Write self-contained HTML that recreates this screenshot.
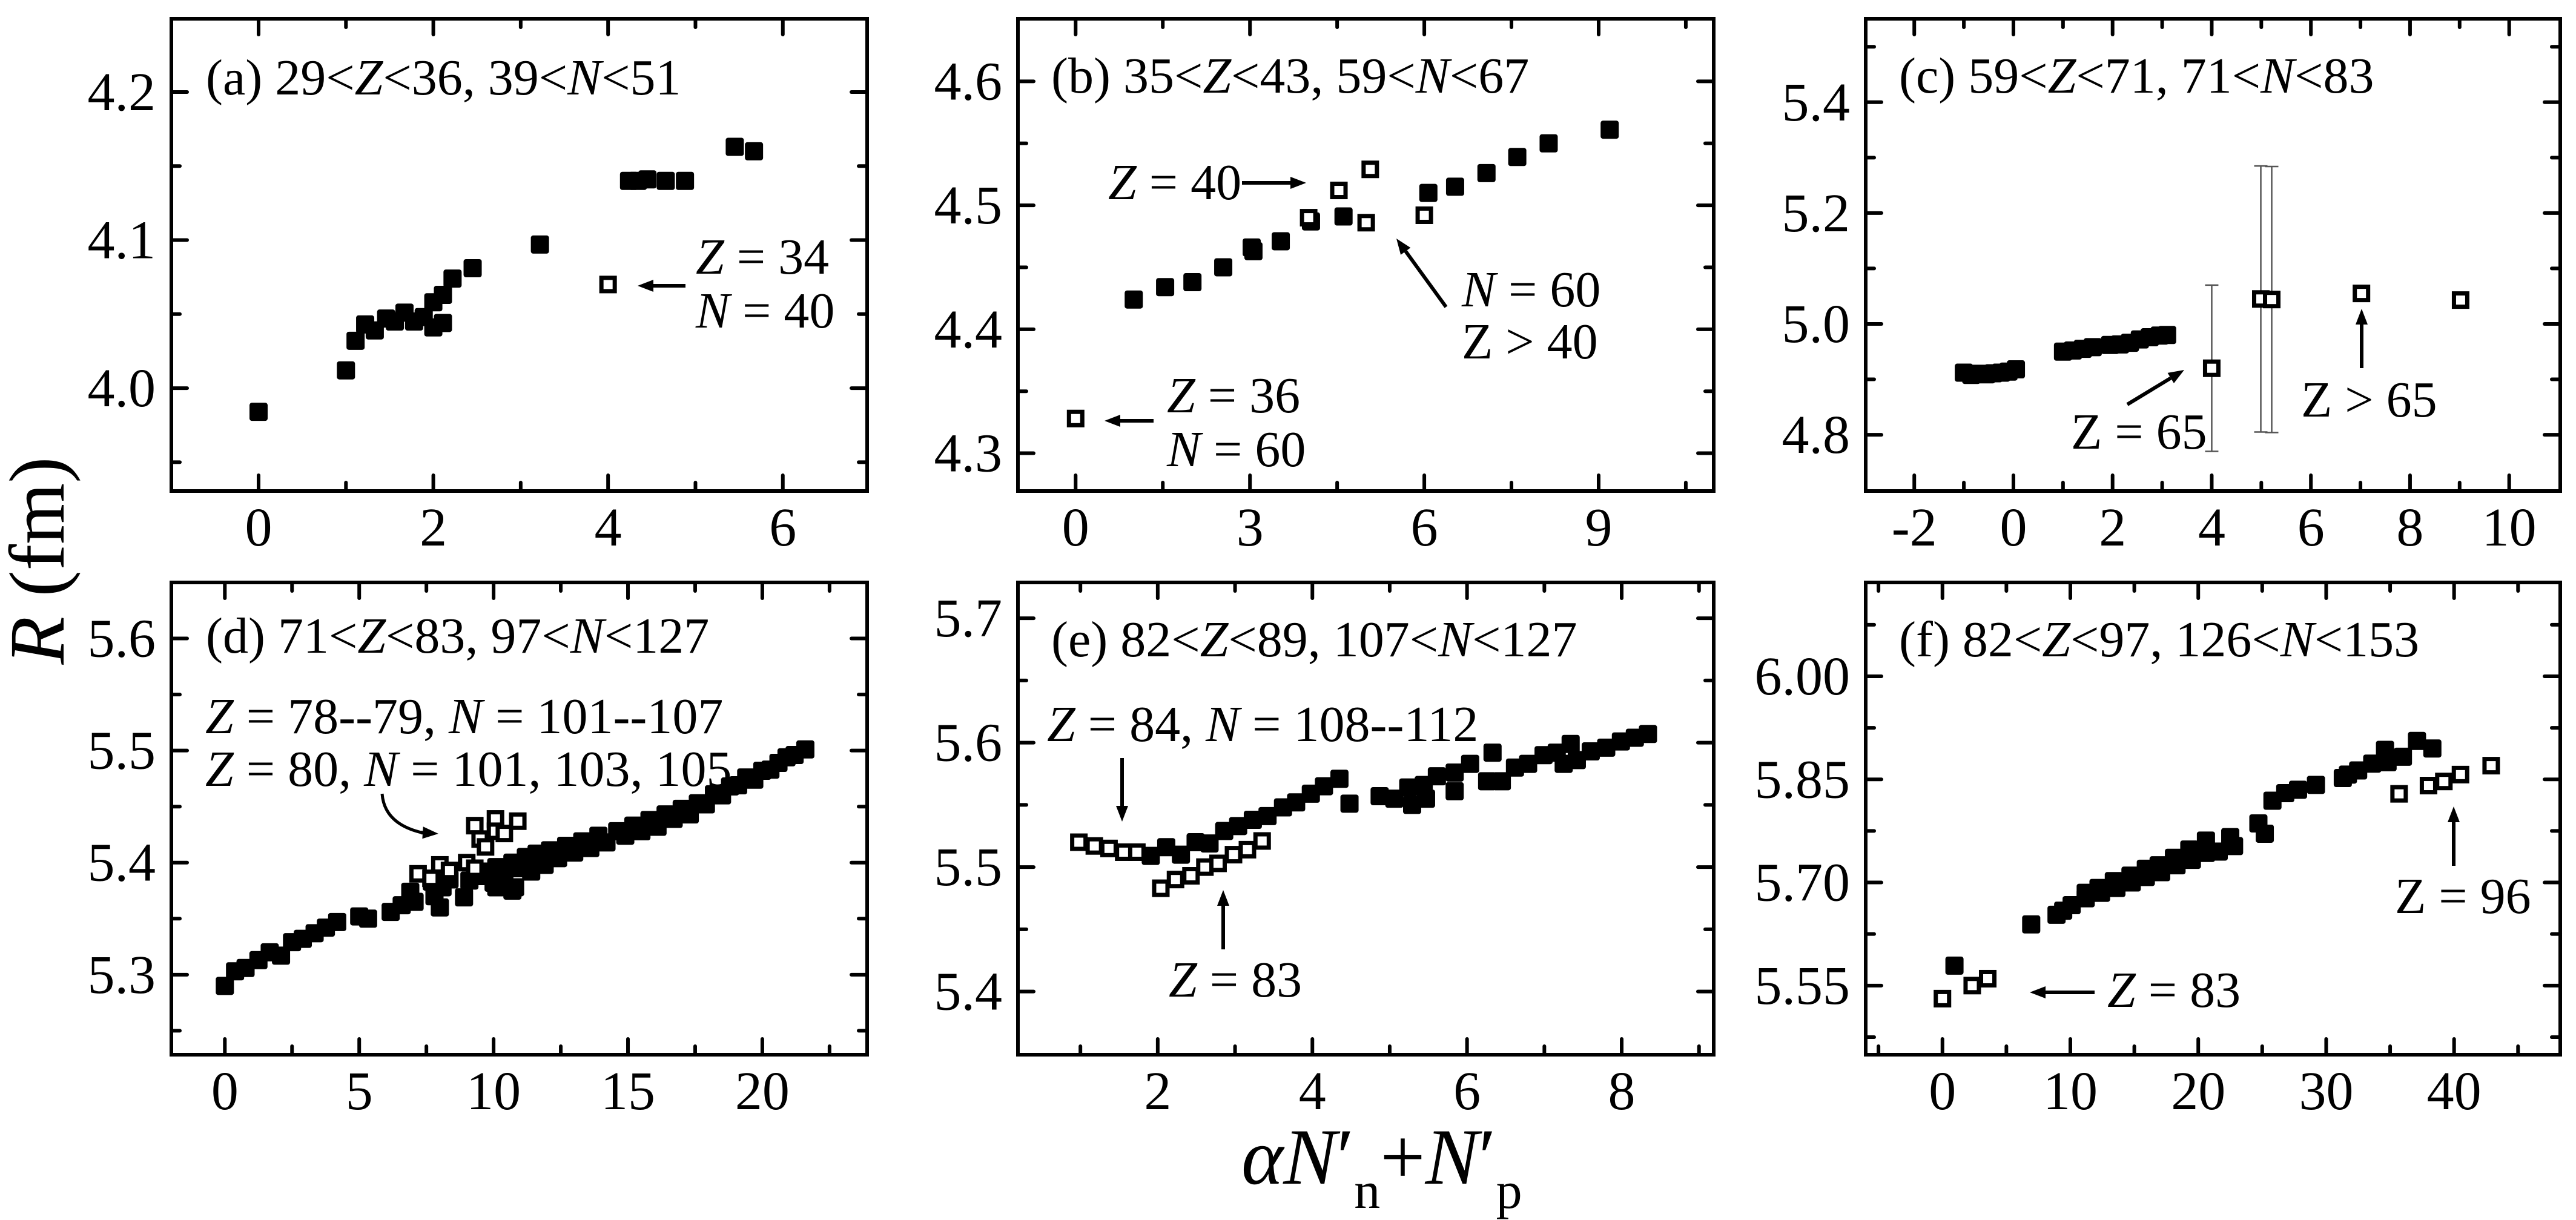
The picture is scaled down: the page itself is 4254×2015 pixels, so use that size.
<!DOCTYPE html>
<html><head><meta charset="utf-8"><title>R vs aN'n+N'p</title>
<style>
html,body{margin:0;padding:0;background:#fff;}
svg{display:block;font-family:"Liberation Serif","Times New Roman",serif;}
</style></head>
<body>
<svg id="fig" xmlns="http://www.w3.org/2000/svg" width="4254" height="2015" viewBox="0 0 4254 2015">
<rect x="0" y="0" width="4254" height="2015" fill="#fff"/>
<text transform="translate(105,926) rotate(-90)" text-anchor="middle" font-size="130" fill="#000"><tspan font-style="italic">R</tspan> (fm)</text>
<text x="2050" y="1955" font-size="132" fill="#000"><tspan font-style="italic">αN</tspan>′<tspan font-size="86" dy="40">n</tspan><tspan dy="-40">+</tspan><tspan font-style="italic">N</tspan>′<tspan font-size="86" dy="40">p</tspan></text>
</svg>
<script>
// ---- data arrays ----
const aFilledX=[0,1.0,1.11,1.22,1.33,1.46,1.56,1.67,1.78,1.89,2.0,2.0,2.11,2.11,2.22,2.45,3.22,4.24,4.34,4.45,4.66,4.88,5.45,5.67];
const aFilledR=[3.984,4.012,4.032,4.043,4.039,4.047,4.045,4.051,4.045,4.048,4.041,4.058,4.044,4.063,4.074,4.081,4.097,4.140,4.140,4.141,4.140,4.140,4.163,4.160];
const aOpenX=[4.0];
const aOpenR=[4.070];

const bFilledX=[1.0,1.54,2.01,2.54,3.03,3.06,3.53,4.05,4.61,6.07,6.53,7.07,7.6,8.14,9.19];
const bFilledR=[4.424,4.434,4.438,4.450,4.466,4.463,4.471,4.487,4.491,4.510,4.515,4.526,4.539,4.550,4.561];
const bOpenX=[0,4.01,4.53,5.07,5.0,6.0];
const bOpenR=[4.328,4.490,4.512,4.529,4.486,4.492];

const cFilledX=[-1.0,-0.85,-0.7,-0.55,-0.4,-0.25,-0.1,0.05,1.0,1.2,1.4,1.6,1.95,2.15,2.35,2.55,2.75,2.95,3.1];
const cFilledR=[4.912,4.908,4.910,4.909,4.911,4.912,4.914,4.918,4.950,4.952,4.955,4.958,4.962,4.963,4.966,4.972,4.976,4.979,4.980];
const cOpenX=[4.0,4.99,5.21,7.02,9.02];
const cOpenR=[4.92,5.045,5.044,5.055,5.043];
const cOpenErr=[0.15,0.24,0.24,0,0];

const dFilledX=[0,0.38,0.77,1.25,1.67,2.09,2.5,2.9,3.34,3.76,4.18,5.0,5.33,6.17,6.58,6.9,7.06,7.7,7.8,8.0,8.1,8.36,8.9,9.1,9.4,9.7,10.0,10.1,10.1,10.4,10.7,10.7,10.8,11.0,11.2,11.4,11.6,11.9,12.1,12.4,12.7,13.0,13.3,13.6,13.9,14.2,14.6,14.9,15.2,15.5,15.8,16.1,16.4,16.7,17.0,17.3,17.6,17.9,18.2,18.5,18.8,19.1,19.4,19.7,20.0,20.3,20.6,20.9,21.2,21.6];
const dFilledR=[5.290,5.303,5.306,5.313,5.320,5.317,5.329,5.332,5.337,5.342,5.347,5.352,5.350,5.356,5.362,5.374,5.365,5.383,5.370,5.360,5.378,5.385,5.369,5.384,5.388,5.392,5.382,5.396,5.378,5.388,5.400,5.375,5.378,5.395,5.405,5.392,5.408,5.398,5.411,5.404,5.415,5.409,5.419,5.413,5.424,5.418,5.428,5.424,5.433,5.428,5.438,5.432,5.443,5.439,5.448,5.443,5.453,5.452,5.461,5.460,5.468,5.469,5.476,5.474,5.482,5.483,5.489,5.494,5.496,5.501];
const dOpenX=[7.19,7.67,8.0,8.36,9.0,9.3,9.3,9.5,9.7,10.07,10.07,10.4,10.9];
const dOpenR=[5.390,5.386,5.398,5.393,5.400,5.433,5.395,5.421,5.414,5.439,5.428,5.426,5.437];

const eFilledX=[1.91,2.11,2.3,2.49,2.67,2.86,3.04,3.23,3.42,3.62,3.79,3.98,4.15,4.35,4.48,4.87,5.06,5.24,5.29,5.44,5.47,5.61,5.84,5.84,6.04,6.26,6.33,6.45,6.62,6.79,6.99,7.16,7.25,7.34,7.42,7.6,7.8,7.99,8.17,8.34];
const eFilledR=[5.509,5.516,5.510,5.520,5.519,5.529,5.533,5.538,5.541,5.548,5.552,5.559,5.565,5.571,5.551,5.557,5.555,5.564,5.550,5.566,5.555,5.573,5.561,5.576,5.583,5.569,5.592,5.569,5.580,5.583,5.590,5.592,5.583,5.599,5.586,5.593,5.596,5.601,5.604,5.607];
const eOpenX=[0.98,1.18,1.37,1.56,1.73,2.04,2.23,2.43,2.61,2.78,2.98,3.16,3.35];
const eOpenR=[5.520,5.517,5.515,5.512,5.512,5.483,5.490,5.493,5.500,5.503,5.510,5.514,5.521];

const fFilledX=[0.94,6.94,8.92,9.44,10.1,11.2,11.2,12.2,12.4,13.4,13.6,14.7,14.8,15.9,15.9,16.9,17.1,18.1,18.3,19.3,19.5,20.6,20.6,21.6,22.5,22.8,24.7,25.2,25.8,26.8,27.8,29.2,31.3,31.7,32.5,33.6,34.6,34.8,36.0,37.1,38.3];
const fFilledR=[5.579,5.639,5.653,5.659,5.667,5.677,5.685,5.692,5.685,5.702,5.692,5.710,5.700,5.720,5.708,5.725,5.715,5.736,5.725,5.748,5.733,5.761,5.743,5.745,5.766,5.753,5.786,5.771,5.819,5.830,5.835,5.842,5.852,5.857,5.863,5.873,5.893,5.875,5.883,5.906,5.895];
const fOpenX=[0,2.33,3.54,35.7,38.0,39.2,40.5,42.9];
const fOpenR=[5.531,5.550,5.560,5.829,5.841,5.847,5.857,5.870];

// tick arrays
const aXTicks=[0,2,4,6], aXMinor=[1,3,5], aYTicks=[4.0,4.1,4.2], aYLabels=["4.0","4.1","4.2"], aYMinor=[3.95,4.05,4.15];
const bXTicks=[0,3,6,9], bXMinor=[1.5,4.5,7.5,10.5], bYTicks=[4.3,4.4,4.5,4.6], bYLabels=["4.3","4.4","4.5","4.6"], bYMinor=[4.35,4.45,4.55];
const cXTicks=[-2,0,2,4,6,8,10], cXMinor=[-1,1,3,5,7,9], cYTicks=[4.8,5.0,5.2,5.4], cYLabels=["4.8","5.0","5.2","5.4"], cYMinor=[4.9,5.1,5.3,5.5];
const dXTicks=[0,5,10,15,20], dXMinor=[2.5,7.5,12.5,17.5,22.5], dYTicks=[5.3,5.4,5.5,5.6], dYLabels=["5.3","5.4","5.5","5.6"], dYMinor=[5.25,5.35,5.45,5.55];
const eXTicks=[2,4,6,8], eXMinor=[1,3,5,7,9], eYTicks=[5.4,5.5,5.6,5.7], eYLabels=["5.4","5.5","5.6","5.7"], eYMinor=[5.45,5.55,5.65];
const fXTicks=[0,10,20,30,40], fXMinor=[-5,5,15,25,35,45], fYTicks=[5.55,5.70,5.85,6.00], fYLabels=["5.55","5.70","5.85","6.00"], fYMinor=[5.475,5.625,5.775,5.925,6.075];

const NS="http://www.w3.org/2000/svg";
const svg=document.getElementById('fig');
function el(tag,attrs,parent){const e=document.createElementNS(NS,tag);for(const k in attrs)e.setAttribute(k,attrs[k]);(parent||svg).appendChild(e);return e;}

const panels=[
 {id:'a',box:[283,31,1432,811],xd:[-0.998,6.965],yd:[3.9305,4.2495],fx:aFilledX,fr:aFilledR,ox:aOpenX,or:aOpenR,xt:aXTicks,xm:aXMinor,yt:aYTicks,yl:aYLabels,ym:aYMinor},
 {id:'b',box:[1681,31,2830,811],xd:[-0.993,10.98],yd:[4.2695,4.6505],fx:bFilledX,fr:bFilledR,ox:bOpenX,or:bOpenR,xt:bXTicks,xm:bXMinor,yt:bYTicks,yl:bYLabels,ym:bYMinor},
 {id:'c',box:[3081,31,4228,811],xd:[-2.98,11.03],yd:[4.6985,5.5505],fx:cFilledX,fr:cFilledR,ox:cOpenX,or:cOpenR,err:cOpenErr,xt:cXTicks,xm:cXMinor,yt:cYTicks,yl:cYLabels,ym:cYMinor},
 {id:'d',box:[283,962,1432,1742],xd:[-1.99,23.9],yd:[5.2286,5.650],fx:dFilledX,fr:dFilledR,ox:dOpenX,or:dOpenR,xt:dXTicks,xm:dXMinor,yt:dYTicks,yl:dYLabels,ym:dYMinor},
 {id:'e',box:[1681,962,2830,1742],xd:[0.192,9.19],yd:[5.3492,5.7288],fx:eFilledX,fr:eFilledR,ox:eOpenX,or:eOpenR,xt:eXTicks,xm:eXMinor,yt:eYTicks,yl:eYLabels,ym:eYMinor},
 {id:'f',box:[3081,962,4228,1742],xd:[-6.0,48.3],yd:[5.4494,6.1366],fx:fFilledX,fr:fFilledR,ox:fOpenX,or:fOpenR,xt:fXTicks,xm:fXMinor,yt:fYTicks,yl:fYLabels,ym:fYMinor}
];

panels.forEach(p=>{
  const [L,T,R,B]=p.box;
  const sx=v=>L+(v-p.xd[0])/(p.xd[1]-p.xd[0])*(R-L);
  const sy=v=>B-(v-p.yd[0])/(p.yd[1]-p.yd[0])*(B-T);
  const g=el('g',{});
  
  
  const frame=el('rect',{x:L,y:T,width:R-L,height:B-T,fill:'none',stroke:'#000','stroke-width':6},g);
  
  
  const tk=(x1,y1,x2,y2)=>el('line',{x1:x1,y1:y1,x2:x2,y2:y2,stroke:'#000','stroke-width':6,'stroke-linecap':'round'},g);
  p.xt.forEach((v,i)=>{
    const x=sx(v); tk(x,B,x,B-26); tk(x,T,x,T+26);
    const t=el('text',{x:x,y:B+90,'text-anchor':'middle','font-size':90},g); t.textContent=String(v);
    
    
  });
  p.xm.forEach(v=>{const x=sx(v); if(x>L+4&&x<R-4){tk(x,B,x,B-14);tk(x,T,x,T+14);}});
  p.yt.forEach((v,i)=>{
    const y=sy(v); tk(L,y,L+26,y); tk(R,y,R-26,y);
    const t=el('text',{x:L-26,y:y+30,'text-anchor':'end','font-size':90},g); t.textContent=p.yl[i];
    
    
  });
  p.ym.forEach(v=>{const y=sy(v); if(y>T+4&&y<B-4){tk(L,y,L+14,y);tk(R,y,R-14,y);}});
  if(p.err){p.ox.forEach((v,i)=>{const e=p.err[i]; if(!e)return; const x=sx(v),y1=sy(p.or[i]+e),y2=sy(p.or[i]-e);
    const eb=el('path',{d:`M${x},${y1}V${y2}M${x-11},${y1}H${x+11}M${x-11},${y2}H${x+11}`,stroke:'#555','stroke-width':2.5,fill:'none'},g);
    
    
  });}
  p.fx.forEach((v,i)=>{
    const s=30; const r=el('rect',{x:sx(v)-s/2,y:sy(p.fr[i])-s/2,width:s,height:s,rx:4,fill:'#000'},g);
    
    
  });
  p.ox.forEach((v,i)=>{
    const s=22; const r=el('rect',{x:sx(v)-s/2,y:sy(p.or[i])-s/2,width:s,height:s,fill:'#fff',stroke:'#000','stroke-width':7},g);
    
    
  });
});

function txt(x,y,html,name,size){const t=el('text',{x:x,y:y,'font-size':size||84});t.innerHTML=html;return t;}
function arrow(x1,y1,x2,y2,name){
  const g=el('g',{});
  
  
  const a=Math.atan2(y2-y1,x2-x1),h=26,w=10;
  const bx=x2-h*Math.cos(a),by=y2-h*Math.sin(a);
  el('line',{x1:x1,y1:y1,x2:bx,y2:by,stroke:'#000','stroke-width':6},g);
  el('polygon',{points:`${x2},${y2} ${bx+w*Math.sin(a)},${by-w*Math.cos(a)} ${bx-w*Math.sin(a)},${by+w*Math.cos(a)}`,fill:'#000'},g);
}
const I=s=>`<tspan font-style="italic">${s}</tspan>`;
txt(340,156,`(a) 29&lt;${I('Z')}&lt;36, 39&lt;${I('N')}&lt;51`,'panel-title-a');
txt(1736,153,`(b) 35&lt;${I('Z')}&lt;43, 59&lt;${I('N')}&lt;67`,'panel-title-b');
txt(3136,153,`(c) 59&lt;${I('Z')}&lt;71, 71&lt;${I('N')}&lt;83`,'panel-title-c');
txt(340,1078,`(d) 71&lt;${I('Z')}&lt;83, 97&lt;${I('N')}&lt;127`,'panel-title-d');
txt(1736,1084,`(e) 82&lt;${I('Z')}&lt;89, 107&lt;${I('N')}&lt;127`,'panel-title-e');
txt(3136,1084,`(f) 82&lt;${I('Z')}&lt;97, 126&lt;${I('N')}&lt;153`,'panel-title-f');

txt(1149,452,`${I('Z')} = 34`,'annotation-z34');
txt(1149,541,`${I('N')} = 40`,'annotation-n40');
arrow(1132,472,1053,472,'arrow-z34');

txt(1830,329,`${I('Z')} = 40`,'annotation-z40');
arrow(2051,302,2157,302,'arrow-z40');
txt(2414,506,`${I('N')} = 60`,'annotation-n60');
txt(2414,592,`Z &gt; 40`,'annotation-zgt40');
arrow(2388,507,2306,394,'arrow-n60');
txt(1927,681,`${I('Z')} = 36`,'annotation-z36');
txt(1927,770,`${I('N')} = 60`,'annotation-b-n60');
arrow(1905,695,1824,695,'arrow-z36');

txt(3420,741,`Z = 65`,'annotation-z65');
arrow(3513,668,3607,611,'arrow-z65');
txt(3800,688,`Z &gt; 65`,'annotation-zgt65');
arrow(3900,608,3900,510,'arrow-zgt65');

txt(339,1211,`${I('Z')} = 78--79, ${I('N')} = 101--107`,'annotation-z78');
txt(339,1298,`${I('Z')} = 80, ${I('N')} = 101, 103, 105`,'annotation-z80');
const cp=el('path',{d:'M631,1311 Q635,1362 700,1376',stroke:'#000','stroke-width':5,fill:'none'});


arrow(695,1375,724,1377,'arrow-head-d');

txt(1729,1224,`${I('Z')} = 84, ${I('N')} = 108--112`,'annotation-z84');
arrow(1853,1252,1853,1357,'arrow-z84');
txt(1930,1646,`${I('Z')} = 83`,'annotation-e-z83');
arrow(2020,1568,2020,1470,'arrow-e-z83');

txt(3480,1663,`${I('Z')} = 83`,'annotation-f-z83');
arrow(3459,1639,3352,1639,'arrow-f-z83');
txt(3955,1508,`Z = 96`,'annotation-z96');
arrow(4052,1430,4052,1332,'arrow-z96');
</script>
</body></html>
